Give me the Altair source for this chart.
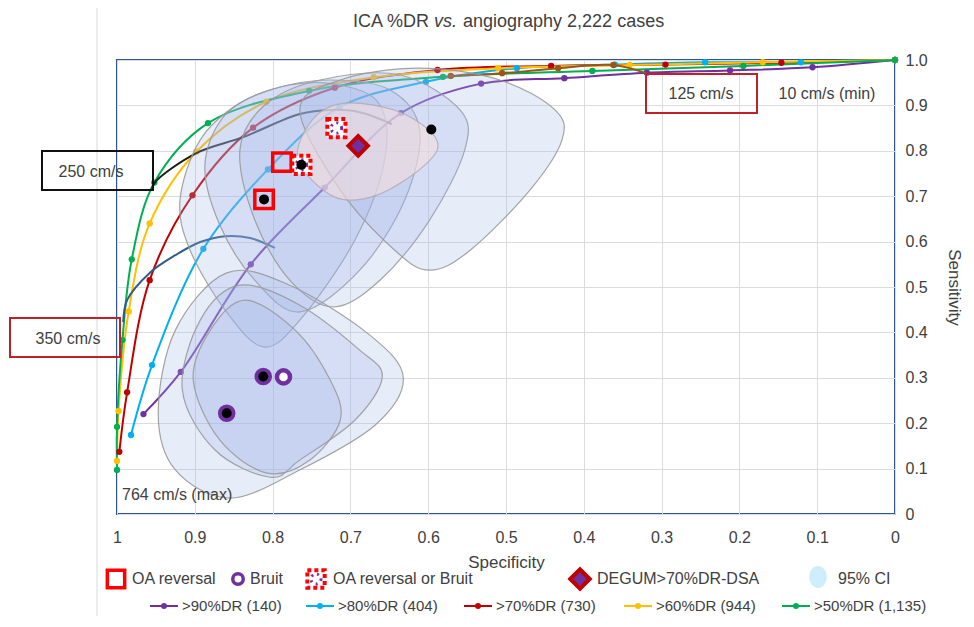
import altair as alt
import pandas as pd

FONT = "Liberation Sans"
TXT = "#404040"

# ---------------- ROC curves (specificity, sensitivity) ----------------
series_names = [">90%DR (140)", ">80%DR (404)", ">70%DR (730)", ">60%DR (944)", ">50%DR (1,135)"]
series_colors = ["#7030a0", "#00b0f0", "#c00000", "#ffc000", "#00b050"]

spec_90 = [0.966, 0.918, 0.828, 0.733, 0.635, 0.532, 0.425, 0.319, 0.212, 0.106, 0.0]
sens_90 = [0.220, 0.313, 0.550, 0.719, 0.883, 0.948, 0.960, 0.972, 0.977, 0.984, 1.0]
spec_80 = [0.982, 0.955, 0.889, 0.806, 0.714, 0.603, 0.486, 0.360, 0.244, 0.121, 0.0]
sens_80 = [0.174, 0.328, 0.584, 0.759, 0.896, 0.952, 0.982, 0.990, 0.995, 0.995, 1.0]
spec_70 = [0.997, 0.987, 0.958, 0.903, 0.825, 0.720, 0.588, 0.442, 0.295, 0.146, 0.0]
sens_70 = [0.137, 0.268, 0.515, 0.702, 0.851, 0.939, 0.978, 0.987, 0.990, 0.994, 1.0]
spec_60 = [1.0, 0.998, 0.985, 0.958, 0.898, 0.808, 0.670, 0.510, 0.341, 0.170, 0.0]
sens_60 = [0.117, 0.227, 0.446, 0.640, 0.798, 0.908, 0.962, 0.982, 0.989, 0.995, 1.0]
spec_50 = [1.0, 1.0, 0.993, 0.981, 0.952, 0.883, 0.753, 0.581, 0.389, 0.195, 0.0]
sens_50 = [0.097, 0.192, 0.383, 0.561, 0.730, 0.861, 0.932, 0.963, 0.976, 0.987, 1.0]

# ---------------- velocity iso-lines ----------------
spec_250 = [0.955, 0.952, 0.898, 0.838, 0.765, 0.726, 0.688, 0.647]
sens_250 = [0.714, 0.729, 0.795, 0.830, 0.881, 0.890, 0.885, 0.859]
spec_350 = [0.992, 0.987, 0.958, 0.925, 0.893, 0.861, 0.829, 0.797]
sens_350 = [0.423, 0.471, 0.531, 0.570, 0.599, 0.612, 0.608, 0.586]
spec_125 = [0.571, 0.505, 0.433, 0.362, 0.320]
sens_125 = [0.965, 0.971, 0.982, 0.989, 0.971]

# ---------------- 95% CI regions (outline points) ----------------
ci_u1_spec = [0.919, 0.893, 0.842, 0.778, 0.713, 0.662, 0.656, 0.694, 0.765, 0.812, 0.861, 0.906]
ci_u1_sens = [0.692, 0.824, 0.905, 0.945, 0.945, 0.901, 0.780, 0.604, 0.427, 0.368, 0.449, 0.581]
ci_u2_spec = [0.887, 0.861, 0.803, 0.726, 0.649, 0.611, 0.630, 0.688, 0.765, 0.823, 0.868]
ci_u2_sens = [0.769, 0.879, 0.934, 0.956, 0.934, 0.846, 0.692, 0.537, 0.445, 0.515, 0.637]
ci_u3_spec = [0.842, 0.810, 0.739, 0.636, 0.559, 0.553, 0.598, 0.662, 0.722, 0.778, 0.823]
ci_u3_sens = [0.802, 0.901, 0.956, 0.967, 0.890, 0.802, 0.648, 0.515, 0.456, 0.515, 0.648]
ci_u4_spec = [0.765, 0.713, 0.611, 0.508, 0.437, 0.428, 0.469, 0.546, 0.598, 0.643, 0.713]
ci_u4_sens = [0.890, 0.956, 0.982, 0.956, 0.890, 0.824, 0.714, 0.581, 0.537, 0.581, 0.714]
ci_l1_spec = [0.947, 0.925, 0.859, 0.778, 0.675, 0.632, 0.668, 0.765, 0.855, 0.925]
ci_l1_sens = [0.222, 0.405, 0.531, 0.504, 0.394, 0.300, 0.196, 0.097, 0.035, 0.097]
ci_l2_spec = [0.916, 0.893, 0.842, 0.765, 0.688, 0.659, 0.694, 0.765, 0.803, 0.874]
ci_l2_sens = [0.273, 0.427, 0.504, 0.460, 0.361, 0.302, 0.207, 0.119, 0.081, 0.141]
ci_l3_spec = [0.902, 0.880, 0.835, 0.771, 0.726, 0.713, 0.752, 0.807, 0.868]
ci_l3_sens = [0.295, 0.405, 0.471, 0.405, 0.295, 0.207, 0.119, 0.090, 0.163]
ci_degum_spec = [0.767, 0.749, 0.707, 0.636, 0.589, 0.604, 0.665, 0.720]
ci_degum_sens = [0.780, 0.868, 0.905, 0.885, 0.824, 0.769, 0.703, 0.698]

# ---------------- single markers ----------------
oa_spec = [0.811, 0.788]
oa_sens = [0.693, 0.775]
bruit_spec = [0.812, 0.859, 0.786]
bruit_sens = [0.303, 0.222, 0.302]
oab_spec = [0.763, 0.718]
oab_sens = [0.769, 0.850]
degum_spec = [0.690]
degum_sens = [0.811]
est_spec = [0.811, 0.763, 0.596, 0.812, 0.859]
est_sens = [0.693, 0.769, 0.847, 0.303, 0.222]

legend_row1 = ["OA reversal", "Bruit", "OA reversal or Bruit", "DEGUM>70%DR-DSA", "95% CI"]


def table(names, specs, senss):
    rows = []
    for name, sp, se in zip(names, specs, senss):
        for i, (a, b) in enumerate(zip(sp, se)):
            rows.append({"name": name, "idx": i, "spec": a, "sens": b})
    return pd.DataFrame(rows)


ticks = [round(i * 0.1, 1) for i in range(11)]

x_enc = alt.X(
    "spec:Q", title="Specificity",
    scale=alt.Scale(domain=[0, 1], reverse=True, nice=False, zero=False),
    axis=alt.Axis(values=ticks, format=".1~f", grid=True, gridColor="#dcdcdc", gridWidth=1,
                  domain=False, ticks=False, labelFont=FONT, labelFontSize=16, labelColor=TXT,
                  labelPadding=15, labelFlush=False, labelOverlap=False,
                  titleFont=FONT, titleFontSize=17, titleFontWeight="normal", titleColor=TXT,
                  titlePadding=9))
y_enc = alt.Y(
    "sens:Q", title="Sensitivity",
    scale=alt.Scale(domain=[0, 1], nice=False, zero=False),
    axis=alt.Axis(orient="right", values=ticks,
                  labelExpr="datum.value == 0 ? '0' : format(datum.value, '.1f')",
                  grid=True, gridColor="#dcdcdc", gridWidth=1, domain=False, ticks=False,
                  labelFont=FONT, labelFontSize=16, labelColor=TXT, labelPadding=10,
                  labelOverlap=False,
                  titleFont=FONT, titleFontSize=17, titleFontWeight="normal", titleColor=TXT,
                  titleAngle=90, titlePadding=17))

one = pd.DataFrame({"k": [0]})

layers = []

# faint chart-area line on the left
layers.append(alt.Chart(one).mark_rule(color="#d9d9d9", strokeWidth=1).encode(
    x=alt.value(-20), y=alt.value(-52), y2=alt.value(567)))

# ROC curves
roc_df = table(series_names, [spec_90, spec_80, spec_70, spec_60, spec_50],
               [sens_90, sens_80, sens_70, sens_60, sens_50])
cscale = alt.Scale(domain=series_names, range=series_colors)
layers.append(alt.Chart(roc_df).mark_line(interpolate="catmull-rom", strokeWidth=2).encode(
    x=x_enc, y=y_enc, color=alt.Color("name:N", scale=cscale, legend=None), order="idx:Q"))
layers.append(alt.Chart(roc_df).mark_circle(size=40, opacity=1).encode(
    x=x_enc, y=y_enc, color=alt.Color("name:N", scale=cscale, legend=None)))

# velocity lines
for sp, se, col in [(spec_250, sens_250, "#1a1a1a"), (spec_350, sens_350, "#2e5d8a"),
                    (spec_125, sens_125, "#9a5518")]:
    d = pd.DataFrame({"idx": range(len(sp)), "spec": sp, "sens": se})
    layers.append(alt.Chart(d).mark_line(interpolate="catmull-rom", strokeWidth=2, color=col).encode(
        x=x_enc, y=y_enc, order="idx:Q"))
d125 = pd.DataFrame({"spec": spec_125[:-1], "sens": sens_125[:-1]})
layers.append(alt.Chart(d125).mark_circle(size=40, opacity=1, color="#9a5518").encode(x=x_enc, y=y_enc))

# 95% CI regions
ci_df = table(["u1", "u2", "u3", "u4", "l1", "l2", "l3"],
              [ci_u1_spec, ci_u2_spec, ci_u3_spec, ci_u4_spec, ci_l1_spec, ci_l2_spec, ci_l3_spec],
              [ci_u1_sens, ci_u2_sens, ci_u3_sens, ci_u4_sens, ci_l1_sens, ci_l2_sens, ci_l3_sens])
layers.append(alt.Chart(ci_df).mark_line(
    interpolate="cardinal-closed", fill="#9fb4e6", fillOpacity=0.25, stroke="#9a9a9a",
    strokeWidth=1.2, strokeOpacity=0.9).encode(x=x_enc, y=y_enc, detail="name:N", order="idx:Q"))
dg_df = table(["degum"], [ci_degum_spec], [ci_degum_sens])
layers.append(alt.Chart(dg_df).mark_line(
    interpolate="cardinal-closed", fill="#f3dede", fillOpacity=0.6, stroke="#b0a8b0",
    strokeWidth=1.2, strokeOpacity=0.8).encode(x=x_enc, y=y_enc, detail="name:N", order="idx:Q"))

# markers
oa_df = pd.DataFrame({"spec": oa_spec, "sens": oa_sens})
layers.append(alt.Chart(oa_df).mark_point(shape="square", filled=False, stroke="#ff0000",
                                          strokeWidth=3.5, size=340, opacity=1).encode(x=x_enc, y=y_enc))
oab_df = pd.DataFrame({"spec": oab_spec, "sens": oab_sens})
layers.append(alt.Chart(oab_df).mark_point(shape="square", filled=True, fill="white", stroke="#ff0000",
                                           strokeWidth=4, strokeDash=[4, 3], size=330, opacity=1).encode(x=x_enc, y=y_enc))
layers.append(alt.Chart(oab_df).mark_point(shape="circle", filled=False, stroke="#7030a0",
                                           strokeWidth=3, strokeDash=[2, 4], size=110, opacity=1).encode(x=x_enc, y=y_enc))
br_df = pd.DataFrame({"spec": bruit_spec, "sens": bruit_sens})
layers.append(alt.Chart(br_df).mark_point(shape="circle", filled=True, fill="white", stroke="#7030a0",
                                          strokeWidth=4.5, size=170, opacity=1).encode(x=x_enc, y=y_enc))
est_df = pd.DataFrame({"spec": est_spec, "sens": est_sens})
layers.append(alt.Chart(est_df).mark_circle(size=100, color="black", opacity=1).encode(x=x_enc, y=y_enc))
dgm_df = pd.DataFrame({"spec": degum_spec, "sens": degum_sens})
layers.append(alt.Chart(dgm_df).mark_point(shape="diamond", filled=True, fill="#7030a0", stroke="#c00000",
                                           strokeWidth=4, size=380, opacity=1).encode(x=x_enc, y=y_enc))


# annotation helpers (pixel positions relative to the plot area)
def box(x1, y1, x2, y2, col):
    return alt.Chart(one).mark_rect(fill="white", fillOpacity=0, stroke=col, strokeWidth=2).encode(
        x=alt.value(x1), x2=alt.value(x2), y=alt.value(y1), y2=alt.value(y2))


def txt(s, x, y, align="left", size=16, style="normal"):
    return alt.Chart(one).mark_text(text=s, align=align, baseline="middle", fontSize=size, font=FONT,
                                    fontStyle=style, color=TXT).encode(x=alt.value(x), y=alt.value(y))


layers += [
    box(-75, 91, 36, 130, "#111111"), txt("250 cm/s", -26, 112, "center"),
    box(-107, 258, 3, 297, "#c0202a"), txt("350 cm/s", -49, 279, "center"),
    box(529, 14, 640, 53, "#c0202a"), txt("125 cm/s", 584, 34, "center"),
    txt("10 cm/s (min)", 710, 34, "center"),
    txt("764 cm/s (max)", 5, 435, "left"),
]

# title
layers += [
    txt("ICA %DR", 312, -38, "right", 18),
    txt("vs.", 317, -38, "left", 18, "italic"),
    txt("angiography 2,222 cases", 346, -38, "left", 18),
]

# legend row 1
ly1 = 519
layers.append(alt.Chart(one).mark_point(shape="square", filled=False, stroke="#ff0000", strokeWidth=3.5,
                                        size=300, opacity=1).encode(x=alt.value(-1), y=alt.value(ly1)))
layers.append(txt(legend_row1[0], 15, ly1))
layers.append(alt.Chart(one).mark_point(shape="circle", filled=True, fill="white", stroke="#7030a0",
                                        strokeWidth=3.5, size=110, opacity=1).encode(x=alt.value(121), y=alt.value(ly1)))
layers.append(txt(legend_row1[1], 133, ly1))
layers.append(alt.Chart(one).mark_point(shape="square", filled=True, fill="white", stroke="#ff0000",
                                        strokeWidth=4, strokeDash=[4, 3], size=300, opacity=1).encode(x=alt.value(199), y=alt.value(ly1)))
layers.append(alt.Chart(one).mark_point(shape="circle", filled=False, stroke="#7030a0", strokeWidth=3,
                                        strokeDash=[2, 4], size=100, opacity=1).encode(x=alt.value(199), y=alt.value(ly1)))
layers.append(txt(legend_row1[2], 216, ly1))
layers.append(alt.Chart(one).mark_point(shape="diamond", filled=True, fill="#7030a0", stroke="#c00000",
                                        strokeWidth=4, size=380, opacity=1).encode(x=alt.value(463), y=alt.value(ly1)))
layers.append(txt(legend_row1[3], 480, ly1))
layers.append(alt.Chart(one).mark_point(shape="M-0.8,0A0.8,1,0,1,1,0.8,0A0.8,1,0,1,1,-0.8,0Z", filled=True,
                                        fill="#cdeefa", strokeWidth=0, size=480, opacity=1).encode(x=alt.value(701), y=alt.value(ly1 - 2)))
layers.append(txt(legend_row1[4], 721, ly1))

# legend row 2
ly2 = 546
row2_x = [33, 189, 347, 507, 665]
for name, col, lx in zip(series_names, series_colors, row2_x):
    layers.append(alt.Chart(one).mark_rule(color=col, strokeWidth=2).encode(
        x=alt.value(lx), x2=alt.value(lx + 28), y=alt.value(ly2)))
    layers.append(alt.Chart(one).mark_circle(color=col, size=36, opacity=1).encode(
        x=alt.value(lx + 14), y=alt.value(ly2)))
    layers.append(txt(name, lx + 32, ly2, "left", 15))

chart = alt.layer(*layers).properties(
    width=778, height=454,
    autosize=alt.AutoSizeParams(type="none"),
    padding={"left": 109, "top": 52, "right": 71, "bottom": 102},
    background="white",
).configure_view(stroke="#2f5597", strokeWidth=2)

chart.save("out.html", embed_options={"renderer": "svg", "actions": False})
